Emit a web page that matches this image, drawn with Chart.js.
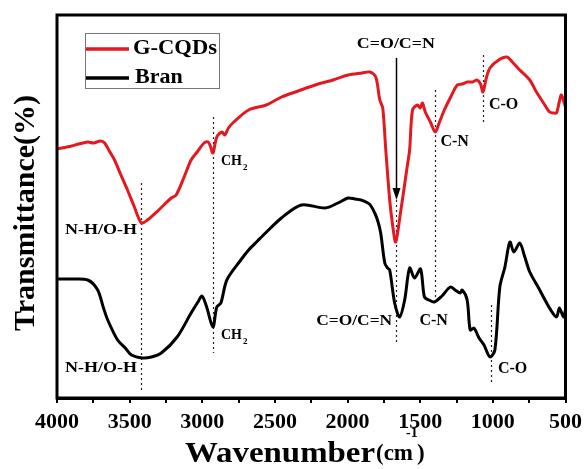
<!DOCTYPE html>
<html>
<head>
<meta charset="utf-8">
<script src="https://cdn.jsdelivr.net/npm/chart.js@4.4.1/dist/chart.umd.min.js"></script>
<style>
  html, body { margin: 0; padding: 0; background: #fff; }
  #c { display: block; }
</style>
</head>
<body>
<canvas id="c" width="588" height="469"></canvas>
<script>
// FTIR spectra, wavenumber (cm-1) vs transmittance (arbitrary offset units)
const cqdWavenumber = [4000, 3900, 3850, 3788, 3750, 3700, 3672, 3640, 3604, 3560, 3515, 3470, 3419, 3378, 3300, 3214, 3180, 3125, 3077, 3030, 2988, 2960, 2945, 2927, 2900, 2865, 2845, 2820, 2783, 2681, 2560, 2455, 2340, 2223, 2100, 1997, 1900, 1847, 1806, 1778, 1758, 1737, 1710, 1690, 1669, 1640, 1590, 1573, 1553, 1519, 1500, 1485, 1465, 1430, 1396, 1370, 1334, 1290, 1245, 1210, 1177, 1140, 1109, 1085, 1068, 1045, 1020, 960, 904, 860, 815, 746, 700, 651, 610, 580, 562, 540, 528, 500];
const cqdTransmittance = [249, 252, 254, 256, 255, 257, 255, 247, 238, 223, 208, 192, 175, 178, 188, 200, 203, 221, 238, 247, 255, 256, 252, 245, 261, 266, 263, 270, 276, 288, 293, 301, 307, 313, 318, 323, 325, 326, 321, 298, 290, 248, 198, 173, 156, 181, 231, 248, 288, 293, 290, 295, 286, 276, 266, 275, 288, 301, 313, 314, 316, 316, 318, 314, 306, 320, 330, 338, 341, 335, 328, 318, 306, 295, 286, 285, 285, 298, 303, 291];

const branWavenumber = [4000, 3900, 3788, 3720, 3680, 3651, 3583, 3530, 3487, 3412, 3350, 3282, 3173, 3077, 3030, 3002, 2970, 2927, 2900, 2872, 2831, 2735, 2681, 2620, 2565, 2455, 2318, 2154, 2066, 1997, 1950, 1908, 1850, 1813, 1790, 1772, 1744, 1725, 1710, 1676, 1642, 1607, 1573, 1539, 1498, 1471, 1440, 1403, 1350, 1293, 1260, 1225, 1211, 1177, 1156, 1130, 1095, 1061, 1020, 986, 952, 917, 883, 855, 815, 780, 746, 685, 610, 562, 542, 514, 500];
const branTransmittance = [119, 119, 118, 108, 90, 78, 58, 50, 43, 40, 41, 45, 61, 85, 96, 102, 91, 71, 91, 95, 118, 138, 148, 157, 165, 180, 193, 190, 195, 200, 199, 198, 194, 185, 176, 165, 135, 130, 128, 95, 81, 98, 130, 120, 129, 101, 98, 96, 102, 111, 108, 105, 108, 98, 68, 70, 60, 53, 41, 48, 111, 131, 156, 146, 155, 141, 126, 110, 90, 81, 90, 81, 88];

const xTickLabels = [4000, 3500, 3000, 2500, 2000, 1500, 1000, 500];

const SERIF = "'Liberation Serif', 'Times New Roman', serif";
const RED = '#e3191f';

// peak markers: dotted guide lines (wavenumber, from/to in y units)
const peakLines = [
  { wn: 3419, from: 215, to: 6 },
  { wn: 2927, from: 281, to: 45 },
  { wn: 1669, from: 198, to: 55 },
  { wn: 1396, from: 308, to: 93 },
  { wn: 1068, from: 343, to: 276 },
  { wn: 1013, from: 93, to: 15 }
];
// peak labels, left edge + baseline in data units, w = drawn width
const peakLabels = [
  { text: 'N-H/O-H', wn: 3945, y: 164, size: 15, w: 72 },
  { text: 'N-H/O-H', wn: 3945, y: 26, size: 15, w: 72 },
  { text: 'CH', sub: '2', wn: 2872, y: 233, size: 14 },
  { text: 'CH', sub: '2', wn: 2872, y: 59, size: 14 },
  { text: 'C=O/C=N', wn: 1936, y: 350, size: 15, w: 78 },
  { text: 'C=O/C=N', wn: 2216, y: 73, size: 15, w: 76 },
  { text: 'C-N', wn: 1361, y: 252, size: 16 },
  { text: 'C-O', wn: 1027, y: 289, size: 16 },
  { text: 'C-N', wn: 1505, y: 73, size: 16 },
  { text: 'C-O', wn: 965, y: 25, size: 16 }
];

function toPoints (xs, ys) {
  return xs.map((x, i) => ({ x: x, y: ys[i] }));
}

function drawText (ctx, text, x, y, size, width) {
  ctx.save();
  ctx.font = `bold ${size}px ${SERIF}`;
  ctx.fillStyle = '#000';
  ctx.textBaseline = 'alphabetic';
  ctx.textAlign = 'left';
  ctx.translate(x, y);
  if (width) ctx.scale(width / ctx.measureText(text).width, 1);
  ctx.fillText(text, 0, 0);
  const w = width || ctx.measureText(text).width;
  ctx.restore();
  return w;
}

const annotations = {
  id: 'annotations',
  beforeDatasetsDraw (chart) {
    const { ctx, scales: { x, y } } = chart;
    ctx.save();
    ctx.strokeStyle = '#222';
    ctx.lineWidth = 1.2;
    ctx.setLineDash([2, 3]);
    peakLines.forEach(l => {
      const px = Math.round(x.getPixelForValue(l.wn)) + 0.5;
      ctx.beginPath();
      ctx.moveTo(px, y.getPixelForValue(l.from));
      ctx.lineTo(px, y.getPixelForValue(l.to));
      ctx.stroke();
    });
    ctx.restore();
  },
  afterDatasetsDraw (chart) {
    const { ctx, chartArea: a, scales: { x, y } } = chart;

    // arrow pointing at the C=O/C=N band
    const ax = Math.round(x.getPixelForValue(1669)) + 0.5;
    const top = y.getPixelForValue(340);
    const tip = y.getPixelForValue(198);
    ctx.save();
    ctx.strokeStyle = '#000';
    ctx.fillStyle = '#000';
    ctx.lineWidth = 1.5;
    ctx.beginPath();
    ctx.moveTo(ax, top);
    ctx.lineTo(ax, tip - 8);
    ctx.stroke();
    ctx.beginPath();
    ctx.moveTo(ax, tip);
    ctx.lineTo(ax - 4, tip - 12);
    ctx.lineTo(ax + 4, tip - 12);
    ctx.closePath();
    ctx.fill();
    ctx.restore();

    // peak labels
    peakLabels.forEach(l => {
      const px = x.getPixelForValue(l.wn);
      const py = y.getPixelForValue(l.y);
      const w = drawText(ctx, l.text, px, py, l.size, l.w);
      if (l.sub) drawText(ctx, l.sub, px + w + 1, py + 5, 9);
    });

    // legend box
    ctx.save();
    ctx.strokeStyle = '#777';
    ctx.lineWidth = 1;
    ctx.strokeRect(85.5, 33.5, 134, 55);
    ctx.lineWidth = 3.5;
    ctx.strokeStyle = RED;
    ctx.beginPath(); ctx.moveTo(86, 49); ctx.lineTo(129, 49); ctx.stroke();
    ctx.strokeStyle = '#000';
    ctx.beginPath(); ctx.moveTo(86, 78); ctx.lineTo(129, 78); ctx.stroke();
    ctx.restore();
    drawText(ctx, 'G-CQDs', 133, 54, 22, 84);
    drawText(ctx, 'Bran', 135, 83, 22);

    // frame
    ctx.save();
    ctx.strokeStyle = '#000';
    ctx.lineWidth = 3;
    ctx.strokeRect(a.left, a.top, a.right - a.left, a.bottom - a.top);
    ctx.restore();

    // axis titles
    ctx.save();
    ctx.font = `bold 30px ${SERIF}`;
    ctx.fillStyle = '#000';
    ctx.textAlign = 'center';
    ctx.translate(34, 213);
    ctx.rotate(-Math.PI / 2);
    ctx.fillText('Transmittance(%)', 0, 0);
    ctx.restore();

    let tx = 185;
    tx += drawText(ctx, 'Wavenumber', tx, 462, 30, 190);
    tx += drawText(ctx, '(cm', tx + 1, 460, 23) + 1;
    drawText(ctx, '-1', tx - 7, 437, 14);
    drawText(ctx, ')', tx + 4, 460, 23);
  }
};

new Chart(document.getElementById('c'), {
  type: 'line',
  data: {
    datasets: [
      {
        label: 'G-CQDs',
        data: toPoints(cqdWavenumber, cqdTransmittance),
        borderColor: RED,
        borderWidth: 3,
        pointRadius: 0,
        tension: 0.3
      },
      {
        label: 'Bran',
        data: toPoints(branWavenumber, branTransmittance),
        borderColor: '#000',
        borderWidth: 3,
        pointRadius: 0,
        tension: 0.3
      }
    ]
  },
  options: {
    responsive: false,
    animation: false,
    devicePixelRatio: 1,
    layout: { padding: { left: 57, right: 19, top: 15, bottom: 0 } },
    plugins: { legend: { display: false }, tooltip: { enabled: false } },
    scales: {
      x: {
        type: 'linear',
        reverse: true,
        min: 500,
        max: 4000,
        afterFit: scale => { scale.height = 71; },
        ticks: {
          stepSize: 250,
          autoSkip: false,
          maxRotation: 0,
          padding: 6,
          color: '#000',
          font: { family: SERIF, size: 22, weight: 'bold' },
          callback: v => (xTickLabels.includes(v) ? String(v) : '')
        },
        grid: { drawOnChartArea: false, drawTicks: true, tickLength: 5, color: '#000', lineWidth: 2 },
        border: { display: true, color: '#000', width: 3 }
      },
      y: { display: false, min: 0, max: 383 }
    }
  },
  plugins: [annotations]
});
</script>
</body>
</html>
